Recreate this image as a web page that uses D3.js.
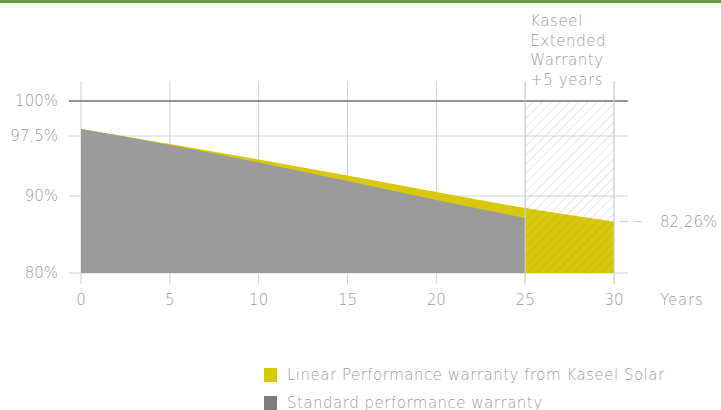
<!DOCTYPE html>
<html>
<head>
<meta charset="utf-8">
<script src="https://cdn.jsdelivr.net/npm/d3@7"></script>
<style>
  body { margin: 0; background: #fff; }
  svg text { font-family: "DejaVu Sans", sans-serif; font-weight: 200; fill: #9c9c9c; }
</style>
</head>
<body>
<svg id="chart"></svg>
<script>

// data //

var years = [0, 5, 10, 15, 20, 25, 30];
var linearWarranty = [98.0, 96.5, 94.56, 92.56, 90.5, 88.44, 86.69];   // Kaseel linear, 0-30 yrs
var standardYears = [0, 5, 10, 15, 20, 25];
var standardWarranty = [98.0, 96.38, 94.19, 91.88, 89.48, 87.14];      // standard, 0-25 yrs
var yTicks = [80, 90, 97.5, 100];
var yTickLabels = ["80%", "90%", "97,5%", "100%"];
var xTicks = [0, 5, 10, 15, 20, 25, 30];
var extendedFrom = 25;
var endLabel = "82,26%";
var extendedNote = ["Kaseel", "Extended", "Warranty", "+5 years"];
var legendItems = ["Linear Performance warranty from Kaseel Solar", "Standard performance warranty"];

var screen = {width: 721, height: 410};
var colors = {yellow: "#d7c90a", gray: "#9b9b9b", grid: "#d2d2d2", dark: "#707070"};

var svg = d3.select("#chart")
            .attr("width", screen.width)
            .attr("height", screen.height);

// top green strip //
svg.append("rect").attr("x", 0).attr("y", 0).attr("width", screen.width).attr("height", 3).attr("fill", "#6b9b48");
svg.append("rect").attr("x", 0).attr("y", 3).attr("width", screen.width).attr("height", 5).attr("fill", "#f3f9e9");

// y axis is not linear in the original, so a piecewise scale //
var xScale = d3.scaleLinear()
               .domain([0, 30])
               .range([81, 614]);

var yScale = d3.scaleLinear()
               .domain([80, 90, 97.5, 100])
               .range([273, 196, 136, 101]);

// hatch for the extended years //
var defs = svg.append("defs");
defs.append("pattern")
    .attr("id", "hatch")
    .attr("patternUnits", "userSpaceOnUse")
    .attr("width", 6.5)
    .attr("height", 6.5)
    .attr("patternTransform", "rotate(45)")
    .append("line")
    .attr("x1", 0).attr("y1", 0).attr("x2", 0).attr("y2", 6.5)
    .attr("stroke", "rgba(110,110,110,0.35)")
    .attr("stroke-width", 1);

// gridlines //
var grid = svg.append("g").attr("id", "grid");

grid.selectAll("line.v")
    .data(xTicks)
    .enter()
    .append("line")
    .attr("class", "v")
    .attr("x1", function(d) { return xScale(d); })
    .attr("x2", function(d) { return xScale(d); })
    .attr("y1", 81)
    .attr("y2", 284)
    .attr("stroke", colors.grid)
    .attr("stroke-width", 1);

grid.selectAll("line.h")
    .data(yTicks)
    .enter()
    .append("line")
    .attr("class", "h")
    .attr("x1", 69)
    .attr("x2", 628)
    .attr("y1", function(d) { return yScale(d); })
    .attr("y2", function(d) { return yScale(d); })
    .attr("stroke", function(d) { return d == 100 ? colors.dark : colors.grid; })
    .attr("stroke-width", function(d) { return d == 100 ? 1.5 : 1; });

// areas //
var linearArea = d3.area()
                   .x(function(d, i) { return xScale(years[i]); })
                   .y0(yScale(80))
                   .y1(function(d) { return yScale(d); })
                   .curve(d3.curveMonotoneX);

var standardArea = d3.area()
                     .x(function(d, i) { return xScale(standardYears[i]); })
                     .y0(yScale(80))
                     .y1(function(d) { return yScale(d); })
                     .curve(d3.curveMonotoneX);

svg.append("path")
   .datum(linearWarranty)
   .attr("d", linearArea)
   .attr("fill", colors.yellow);

svg.append("path")
   .datum(standardWarranty)
   .attr("d", standardArea)
   .attr("fill", colors.gray);

svg.append("rect")
   .attr("x", xScale(extendedFrom))
   .attr("y", yScale(100))
   .attr("width", xScale(30) - xScale(extendedFrom))
   .attr("height", yScale(80) - yScale(100))
   .attr("fill", "url(#hatch)");

// redraw the two box edges over the hatch //
[extendedFrom, 30].forEach(function(t) {
  svg.append("line")
     .attr("x1", xScale(t)).attr("x2", xScale(t))
     .attr("y1", 81).attr("y2", 284)
     .attr("stroke", colors.grid);
});

// axis labels //
svg.append("g")
   .selectAll("text")
   .data(yTicks)
   .enter()
   .append("text")
   .attr("x", 58)
   .attr("y", function(d) { return yScale(d); })
   .attr("dy", "0.35em")
   .attr("text-anchor", "end")
   .style("font-size", "15px")
   .text(function(d, i) { return yTickLabels[i]; });

svg.append("g")
   .selectAll("text")
   .data(xTicks)
   .enter()
   .append("text")
   .attr("x", function(d) { return xScale(d); })
   .attr("y", 300)
   .attr("dy", "0.35em")
   .attr("text-anchor", "middle")
   .style("font-size", "15px")
   .text(function(d) { return d; });

svg.append("text")
   .attr("x", 660)
   .attr("y", 300)
   .attr("dy", "0.35em")
   .style("font-size", "15px")
   .style("letter-spacing", "0.8px")
   .text("Years");

// end value marker //
var last = linearWarranty[linearWarranty.length - 1];
svg.append("line")
   .attr("x1", xScale(30) + 6).attr("x2", xScale(30) + 32)
   .attr("y1", yScale(last)).attr("y2", yScale(last))
   .attr("stroke", colors.grid)
   .attr("stroke-dasharray", "8,6");

svg.append("text")
   .attr("x", 660)
   .attr("y", yScale(last))
   .attr("dy", "0.35em")
   .style("font-size", "15px")
   .text(endLabel);

// note above the extended box //
svg.append("text")
   .attr("x", xScale(extendedFrom) + 5)
   .selectAll("tspan")
   .data(extendedNote)
   .enter()
   .append("tspan")
   .attr("x", xScale(extendedFrom) + 5)
   .attr("y", function(d, i) { return 26 + i * 19.5; })
   .style("font-size", "15px")
   .style("letter-spacing", "0.6px")
   .text(function(d) { return d; });

// legend //
var legend = svg.append("g").attr("transform", "translate(264,368)");
legend.selectAll("rect")
      .data(legendItems)
      .enter()
      .append("rect")
      .attr("x", 0)
      .attr("y", function(d, i) { return i * 28; })
      .attr("width", 13)
      .attr("height", 14)
      .attr("fill", function(d, i) { return i == 0 ? "#d8ca00" : "#7c7c7c"; });

legend.selectAll("text")
      .data(legendItems)
      .enter()
      .append("text")
      .attr("x", 23)
      .attr("y", function(d, i) { return i * 28 + 7; })
      .attr("dy", "0.35em")
      .style("font-size", "15px")
      .style("letter-spacing", "0.5px")
      .text(function(d) { return d; });

</script>
</body>
</html>
